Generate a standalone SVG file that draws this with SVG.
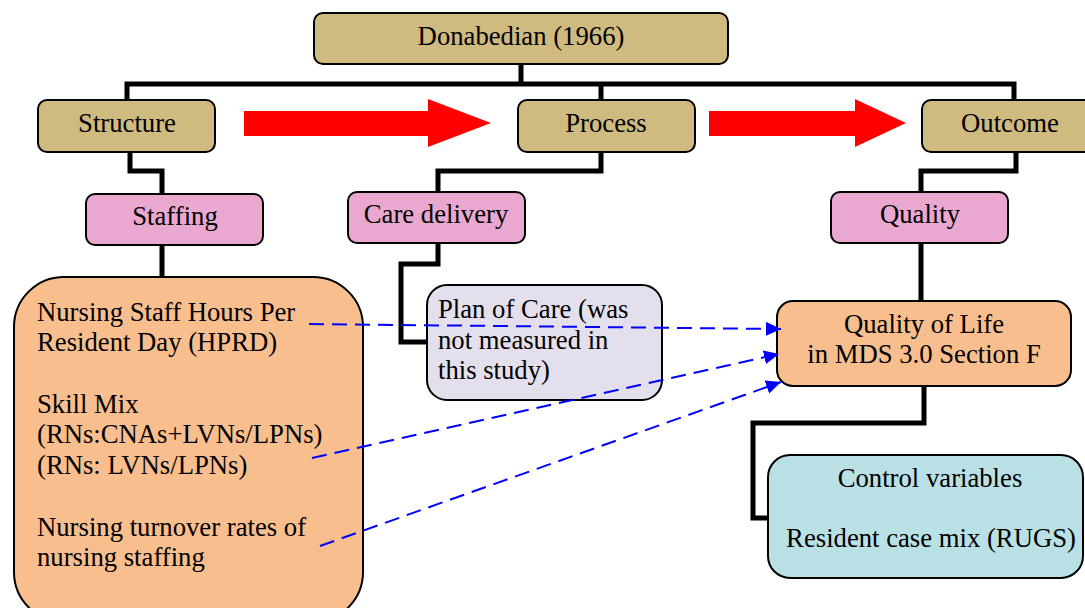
<svg xmlns="http://www.w3.org/2000/svg" width="1085" height="608" viewBox="0 0 1085 608" font-family="'Liberation Serif', 'DejaVu Serif', serif" font-size="26.7">
<style>
text{font-family:'Liberation Serif','DejaVu Serif',serif;font-size:26.7px;fill:#000}
.c{text-anchor:middle}
.box{stroke:#000;stroke-width:2}
.tan{fill:#CFBA7F}
.pink{fill:#EAA8D0}
.orange{fill:#F8BE8E}
.lav{fill:#E4DFEC}
.blue{fill:#B9E0E4}
.conn{fill:none;stroke:#000;stroke-width:5;stroke-linejoin:miter}
.dash{fill:none;stroke:#0000FF;stroke-width:2;stroke-dasharray:15 8}
.red{fill:#FF0000}
</style>
<defs>
<marker id="ah" viewBox="0 0 15 14" refX="15" refY="7" markerWidth="15" markerHeight="14" markerUnits="userSpaceOnUse" orient="auto">
<path d="M0,0 L15,7 L0,14 Z" fill="#0000FF"/>
</marker>
</defs>
<rect width="1085" height="608" fill="#fff"/>
<g id="connectors">
<path class="conn" d="M521,64 V84 M127,100 V84 H1014 V100 M601,84 V100"/>
<path class="conn" d="M130,152 V171 H162 V194 M162,245 V277"/>
<path class="conn" d="M601,152 V171 H438 V192 M438,243 V264 H401 V342 H427"/>
<path class="conn" d="M1016,152 V171 H921 V192 M921,243 V301"/>
<path class="conn" d="M924,386 V423 H753 V518 H768"/>
<polygon class="red" points="244,111 428,111 428,99 491,123 428,147 428,136 244,136"/>
<polygon class="red" points="709,111 855,111 855,99 906,123 855,147 855,136 709,136"/>
</g>
<g id="donabedian"><rect class="box tan" x="314" y="13" width="414" height="51" rx="9"/><text class="c" x="521" y="45">Donabedian (1966)</text></g>
<g id="structure"><rect class="box tan" x="38" y="100" width="177" height="52" rx="9"/><text class="c" x="127" y="132">Structure</text></g>
<g id="process"><rect class="box tan" x="518" y="100" width="177" height="52" rx="9"/><text class="c" x="606" y="132">Process</text></g>
<g id="outcome"><rect class="box tan" x="922" y="100" width="180" height="52" rx="9"/><text class="c" x="1010" y="132">Outcome</text></g>
<g id="staffing"><rect class="box pink" x="86" y="194" width="177" height="51" rx="9"/><text class="c" x="175" y="225">Staffing</text></g>
<g id="care-delivery"><rect class="box pink" x="348" y="192" width="177" height="51" rx="9"/><text class="c" x="436" y="223">Care delivery</text></g>
<g id="quality"><rect class="box pink" x="831" y="192" width="177" height="51" rx="9"/><text class="c" x="920" y="223">Quality</text></g>
<g id="staffing-measures"><rect class="box orange" x="14" y="277" width="349" height="345" rx="50"/>
<text x="37" y="321">Nursing Staff Hours Per</text>
<text x="37" y="351">Resident Day (HPRD)</text>
<text x="37" y="413">Skill Mix</text>
<text x="37" y="443">(RNs:CNAs+LVNs/LPNs)</text>
<text x="37" y="474">(RNs: LVNs/LPNs)</text>
<text x="37" y="536">Nursing turnover rates of</text>
<text x="37" y="566">nursing staffing</text>
</g>
<g id="plan-of-care"><rect class="box lav" x="427" y="285" width="235" height="115" rx="20"/>
<text x="438" y="318">Plan of Care (was</text>
<text x="438" y="349">not measured in</text>
<text x="438" y="379">this study)</text>
</g>
<g id="quality-of-life"><rect class="box orange" x="777" y="301" width="294" height="85" rx="16"/>
<text class="c" x="924" y="333">Quality of Life</text>
<text class="c" x="924" y="363">in MDS 3.0 Section F</text>
</g>
<g id="control-variables"><rect class="box blue" x="768" y="455" width="315" height="123" rx="22"/>
<text class="c" x="930" y="487">Control variables</text>
<text class="c" x="931" y="547">Resident case mix (RUGS)</text>
</g>
<g id="dashed-links">
<path class="dash" d="M309,324 L781,329" marker-end="url(#ah)"/>
<path class="dash" d="M312,458 L779,354" marker-end="url(#ah)"/>
<path class="dash" d="M320,546 L781,382" marker-end="url(#ah)"/>
</g>
</svg>
